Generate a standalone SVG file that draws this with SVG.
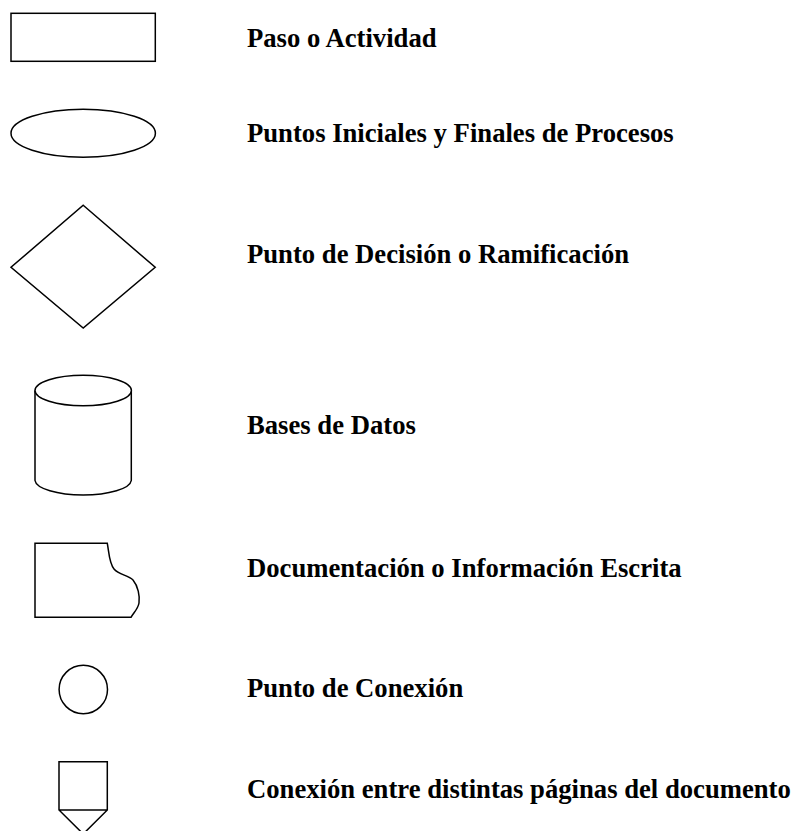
<svg xmlns="http://www.w3.org/2000/svg" width="793" height="831" viewBox="0 0 793 831">
<style>
.s{fill:#fff;stroke:#000;stroke-width:1.5}
.t{font-family:"Liberation Serif","Times New Roman",serif;font-weight:bold;font-size:26.67px;fill:#000}
</style>
<rect width="793" height="831" fill="#fff"/>
<g id="paso"><rect class="s" x="11" y="13.3" width="144.3" height="48"/></g>
<g id="inicio-fin"><ellipse class="s" cx="83.2" cy="133.3" rx="72.2" ry="24"/></g>
<g id="decision"><polygon class="s" points="83.2,205.3 155.2,267.3 83.2,328 11,267.3"/></g>
<g id="base-datos">
<path class="s" d="M35,390.5 V480.5 A48.2,15.2 0 0 0 131.3,480.5 V390.5"/>
<ellipse class="s" cx="83.2" cy="390.5" rx="48.2" ry="15.3"/>
</g>
<g id="documento"><path class="s" d="M35,543.3 H107.3 C109,552 109,563 114,569 C119,575 128,575 133,580 C138,586 140,596 139,603 C138,609 134,612 131,617.3 H35 Z"/></g>
<g id="conexion"><circle class="s" cx="83.3" cy="689.5" r="24.2"/></g>
<g id="conexion-paginas"><path class="s" d="M59,761.7 H107.3 V810 L83.2,834 L59,810 Z M59,810 H107.3"/></g>
<g id="labels">
<text class="t" x="247" y="46.7">Paso o Actividad</text>
<text class="t" x="247" y="142.3">Puntos Iniciales y Finales de Procesos</text>
<text class="t" x="247" y="263.3">Punto de Decisión o Ramificación</text>
<text class="t" x="247" y="434.3">Bases de Datos</text>
<text class="t" x="247" y="577.3">Documentación o Información Escrita</text>
<text class="t" x="247" y="697.3">Punto de Conexión</text>
<text class="t" x="247" y="798.3">Conexión entre distintas páginas del documento</text>
</g>
<g id="connectors"/>
</svg>
